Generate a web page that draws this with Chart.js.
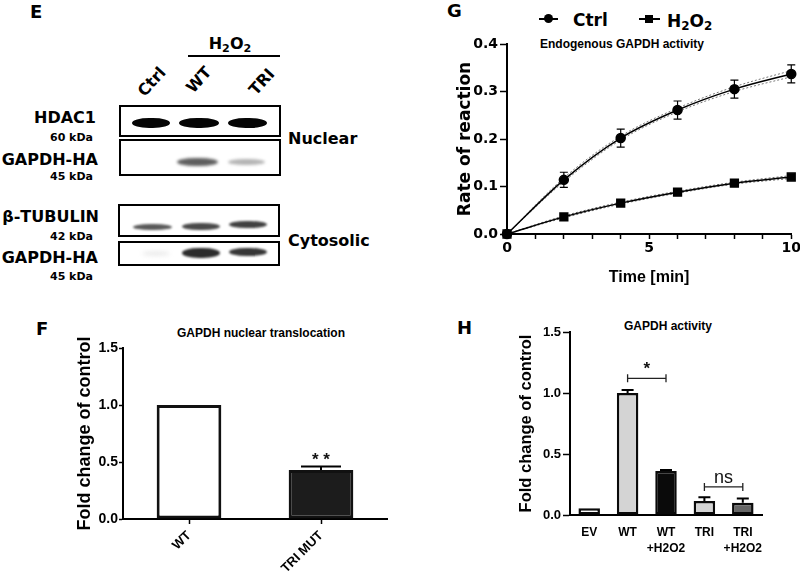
<!DOCTYPE html>
<html>
<head>
<meta charset="utf-8">
<title>GAPDH nuclear translocation and activity</title>
<script src="https://cdn.jsdelivr.net/npm/chart.js@4.4.1/dist/chart.umd.min.js"></script>
<style>
  html, body { margin: 0; padding: 0; background: #fff; }
  body { position: relative; width: 800px; height: 587px; overflow: hidden; color: #000; }
  canvas { position: absolute; }
  .t { position: absolute; line-height: 1; white-space: nowrap; transform: translateY(-50%); }
  .dv { font-family: "DejaVu Sans", sans-serif; font-weight: bold; }
  .lb { font-family: "Liberation Sans", Arial, sans-serif; font-weight: bold; }
  .box { position: absolute; border: 2px solid #000; box-sizing: border-box; background: #fff; }
  .band { position: absolute; border-radius: 45% / 50%; }
  .mk { position: absolute; background: #000; }
  sub { font-size: 0.7em; vertical-align: -0.28em; line-height: 0; }
</style>
</head>
<body>

<!-- panel letters -->
<div class="t dv" style="left:30px;top:12px;font-size:18px">E</div>
<div class="t dv" style="left:36px;top:329px;font-size:18px">F</div>
<div class="t dv" style="left:447px;top:11px;font-size:18px">G</div>
<div class="t dv" style="left:457px;top:328px;font-size:18px">H</div>

<!-- panel E: western blot -->
<div class="t dv" style="left:230px;top:44px;font-size:16px;transform:translate(-50%,-50%)">H<sub>2</sub>O<sub>2</sub></div>
<div class="mk" style="left:188px;top:55px;width:92px;height:2px"></div>
<div class="t dv" style="left:152px;top:82px;font-size:16px;transform:translate(-50%,-50%) rotate(-48deg)">Ctrl</div>
<div class="t dv" style="left:199px;top:80px;font-size:16px;transform:translate(-50%,-50%) rotate(-48deg)">WT</div>
<div class="t dv" style="left:262px;top:82px;font-size:16px;transform:translate(-50%,-50%) rotate(-48deg)">TRI</div>

<div class="t dv" style="right:704px;top:118px;font-size:16px">HDAC1</div>
<div class="t dv" style="right:707px;top:137px;font-size:11px">60 kDa</div>
<div class="t dv" style="right:702px;top:160px;font-size:16px">GAPDH-HA</div>
<div class="t dv" style="right:707px;top:176px;font-size:11px">45 kDa</div>
<div class="t dv" style="right:701px;top:217px;font-size:16px">&beta;-TUBULIN</div>
<div class="t dv" style="right:707px;top:236px;font-size:11px">42 kDa</div>
<div class="t dv" style="right:702px;top:258px;font-size:16px">GAPDH-HA</div>
<div class="t dv" style="right:707px;top:276px;font-size:11px">45 kDa</div>
<div class="t dv" style="left:288px;top:139px;font-size:16px">Nuclear</div>
<div class="t dv" style="left:288px;top:241px;font-size:16px">Cytosolic</div>

<div class="box" style="left:119px;top:105px;width:162px;height:32px"></div>
<div class="box" style="left:119px;top:139px;width:162px;height:37px"></div>
<div class="box" style="left:118px;top:204px;width:162px;height:33px"></div>
<div class="box" style="left:118px;top:241px;width:162px;height:25px"></div>

<!-- HDAC1 -->
<div class="band" style="left:132px;top:118px;width:38px;height:10px;background:#050505;filter:blur(0.6px)"></div>
<div class="band" style="left:179px;top:118px;width:40px;height:10px;background:#050505;filter:blur(0.6px)"></div>
<div class="band" style="left:228px;top:118px;width:39px;height:10px;background:#050505;filter:blur(0.6px)"></div>
<!-- GAPDH-HA nuclear -->
<div class="band" style="left:177px;top:158px;width:41px;height:8px;background:#5e5e5e;filter:blur(1.5px)"></div>
<div class="band" style="left:228px;top:159px;width:37px;height:6px;background:#b4b4b4;filter:blur(1.5px)"></div>
<!-- beta-tubulin -->
<div class="band" style="left:133px;top:224px;width:39px;height:6px;background:#595959;filter:blur(0.8px)"></div>
<div class="band" style="left:182px;top:223px;width:38px;height:7px;background:#4a4a4a;filter:blur(0.8px)"></div>
<div class="band" style="left:229px;top:221px;width:38px;height:7px;background:#404040;filter:blur(0.8px)"></div>
<!-- GAPDH-HA cytosolic -->
<div class="band" style="left:142px;top:251px;width:28px;height:5px;background:#ececec;filter:blur(2px)"></div>
<div class="band" style="left:182px;top:248px;width:38px;height:10px;background:#2c2c2c;filter:blur(1px)"></div>
<div class="band" style="left:229px;top:248px;width:38px;height:8px;background:#363636;filter:blur(1px)"></div>

<!-- panel G legend and title -->
<div class="mk" style="left:539px;top:18px;width:19px;height:2px"></div>
<div class="mk" style="left:544px;top:14px;width:9px;height:9px;border-radius:50%"></div>
<div class="t dv" style="left:573px;top:20px;font-size:17px">Ctrl</div>
<div class="mk" style="left:639px;top:18px;width:21px;height:2px"></div>
<div class="mk" style="left:645px;top:15px;width:8px;height:8px"></div>
<div class="t dv" style="left:667px;top:21px;font-size:17px">H<sub>2</sub>O<sub>2</sub></div>
<div class="t lb" style="left:622px;top:44px;font-size:12px;transform:translate(-50%,-50%)">Endogenous GAPDH activity</div>

<!-- panel F / H titles -->
<div class="t lb" style="left:261px;top:333px;font-size:12px;transform:translate(-50%,-50%)">GAPDH nuclear translocation</div>
<div class="t lb" style="left:668px;top:326px;font-size:12px;transform:translate(-50%,-50%)">GAPDH activity</div>

<canvas id="chartG" width="380" height="300" style="left:422px;top:0px"></canvas>
<canvas id="chartF" width="400" height="287" style="left:0px;top:300px"></canvas>
<canvas id="chartH" width="400" height="287" style="left:400px;top:300px"></canvas>

<script>
// ---- G: endogenous GAPDH activity over time ----
const timeMin = [0, 2, 4, 6, 8, 10];
const ctrlRate = [0, 0.114, 0.202, 0.261, 0.305, 0.337];
const ctrlSem = [0, 0.016, 0.019, 0.019, 0.019, 0.019];
const ctrlFitUpper = [0, 0.118, 0.206, 0.265, 0.310, 0.344];
const ctrlFitLower = [0, 0.110, 0.198, 0.257, 0.300, 0.331];
const h2o2Rate = [0, 0.036, 0.065, 0.088, 0.107, 0.120];
const h2o2FitUpper = [0, 0.038, 0.067, 0.090, 0.109, 0.123];
const h2o2FitLower = [0, 0.034, 0.063, 0.086, 0.105, 0.117];
const timeTicks = [0, 1, 2, 3, 4, 5, 6, 7, 8, 9, 10];
const timeTickLabels = ["0", "", "", "", "", "5", "", "", "", "", "10"];
const rateTicks = [0, 0.1, 0.2, 0.3, 0.4];

// ---- F: GAPDH nuclear translocation ----
const translocGroups = ["WT", "TRI MUT"];
const translocFold = [1.0, 0.43];
const translocSem = [0, 0.03];
const translocStars = ["", "* *"];

// ---- H: GAPDH activity ----
const activityGroups = ["EV", "WT", ["WT", "+H2O2"], "TRI", ["TRI", "+H2O2"]];
const activityFold = [0.055, 1.0, 0.36, 0.115, 0.10];
const activitySem = [0, 0.025, 0.008, 0.03, 0.035];
const activityBrackets = [
  { from: 1, to: 2, y: 1.12, text: "*" },
  { from: 3, to: 4, y: 0.23, text: "ns" }
];
const foldTicks = [0, 0.5, 1.0, 1.5];

const INK = "#000";
Chart.defaults.color = INK;
Chart.defaults.animation = false;

const pts = (xs, ys) => xs.map((x, i) => ({ x: x, y: ys[i] }));

// error bars drawn from dataset.errors through the y scale
const errorBars = {
  id: "errorBars",
  afterDatasetsDraw(chart, args, opts) {
    const ctx = chart.ctx;
    chart.data.datasets.forEach((ds, i) => {
      if (!ds.errors) return;
      const meta = chart.getDatasetMeta(i);
      const yScale = chart.scales[meta.yAxisID];
      ctx.save();
      ctx.strokeStyle = "#000";
      ctx.lineWidth = opts.width;
      meta.data.forEach((el, j) => {
        const err = ds.errors[j];
        if (!err) return;
        const raw = ds.data[j];
        const v = typeof raw === "object" ? raw.y : raw;
        const top = yScale.getPixelForValue(v + err);
        const bottom = opts.upOnly ? el.y : yScale.getPixelForValue(v - err);
        const x = el.x;
        ctx.beginPath();
        ctx.moveTo(x, bottom);
        ctx.lineTo(x, top);
        ctx.moveTo(x - opts.cap, top);
        ctx.lineTo(x + opts.cap, top);
        if (!opts.upOnly) {
          ctx.moveTo(x - opts.cap, bottom);
          ctx.lineTo(x + opts.cap, bottom);
        }
        ctx.stroke();
      });
      ctx.restore();
    });
  }
};

// significance brackets / stars
const brackets = {
  id: "brackets",
  afterDatasetsDraw(chart, args, opts) {
    const items = opts.items || [];
    const ctx = chart.ctx;
    const xs = chart.scales.x, ys = chart.scales.y;
    ctx.save();
    items.forEach(it => {
      const x1 = xs.getPixelForValue(it.from);
      const x2 = xs.getPixelForValue(it.to);
      const py = ys.getPixelForValue(it.y);
      if (it.from !== it.to) {
        ctx.strokeStyle = "#222";
        ctx.lineWidth = 1.3;
        ctx.beginPath();
        ctx.moveTo(x1, py); ctx.lineTo(x2, py);
        ctx.moveTo(x1, py - 4); ctx.lineTo(x1, py + 4);
        ctx.moveTo(x2, py - 4); ctx.lineTo(x2, py + 4);
        ctx.stroke();
      }
      ctx.fillStyle = "#111";
      ctx.textAlign = "center";
      ctx.textBaseline = "alphabetic";
      ctx.font = it.text.indexOf("*") >= 0 ? "bold 17px 'Liberation Sans'" : "18px 'Liberation Sans'";
      ctx.fillText(it.text, (x1 + x2) / 2, py - (it.from !== it.to ? 4 : 2));
    });
    ctx.restore();
  }
};

// ---------- G ----------
new Chart(document.getElementById("chartG"), {
  type: "line",
  data: {
    datasets: [
      { label: "Ctrl", data: pts(timeMin, ctrlRate), errors: ctrlSem, borderColor: "#000", borderWidth: 1.5,
        pointStyle: "circle", pointRadius: 4.5, pointBackgroundColor: "#000", pointBorderColor: "#000",
        cubicInterpolationMode: "monotone", clip: false },
      { label: "H2O2", data: pts(timeMin, h2o2Rate), borderColor: "#000", borderWidth: 1.5,
        pointStyle: "rect", pointRadius: 5.5, pointBackgroundColor: "#000", pointBorderColor: "#000",
        cubicInterpolationMode: "monotone", clip: false },
      { label: "Ctrl 95% band", data: pts(timeMin, ctrlFitUpper), borderColor: "#777", borderWidth: 1,
        borderDash: [2, 2], pointRadius: 0, cubicInterpolationMode: "monotone" },
      { label: "Ctrl 95% band", data: pts(timeMin, ctrlFitLower), borderColor: "#777", borderWidth: 1,
        borderDash: [2, 2], pointRadius: 0, cubicInterpolationMode: "monotone" },
      { label: "H2O2 95% band", data: pts(timeMin, h2o2FitUpper), borderColor: "#666", borderWidth: 1,
        borderDash: [2, 2], pointRadius: 0, cubicInterpolationMode: "monotone" },
      { label: "H2O2 95% band", data: pts(timeMin, h2o2FitLower), borderColor: "#666", borderWidth: 1,
        borderDash: [2, 2], pointRadius: 0, cubicInterpolationMode: "monotone" }
    ]
  },
  options: {
    responsive: false,
    layout: { padding: { left: 33, right: 10, top: 44, bottom: 13 } },
    plugins: {
      legend: { display: false },
      tooltip: { enabled: false },
      errorBars: { width: 1.2, cap: 4, upOnly: false }
    },
    scales: {
      x: {
        type: "linear", min: 0, max: 10,
        afterBuildTicks: s => { s.ticks = timeTicks.map(v => ({ value: v })); },
        afterFit: s => { s.height = 53; },
        ticks: { autoSkip: false, maxRotation: 0, padding: 1,
          callback: (v, i) => timeTickLabels[i],
          font: { family: "DejaVu Sans", weight: "bold", size: 14 } },
        grid: { drawOnChartArea: false, tickLength: 5, tickWidth: 1.5, color: INK },
        border: { color: INK, width: 2 },
        title: { display: true, text: "Time [min]", padding: 0,
          font: { family: "Liberation Sans", weight: "bold", size: 16 } }
      },
      y: {
        min: 0, max: 0.4,
        afterBuildTicks: s => { s.ticks = rateTicks.map(v => ({ value: v })); },
        afterFit: s => { s.width = 52; },
        ticks: { padding: 2, callback: v => v.toFixed(1),
          font: { family: "DejaVu Sans", weight: "bold", size: 14 } },
        grid: { drawOnChartArea: false, tickLength: 7, tickWidth: 1.5, color: INK },
        border: { color: INK, width: 2 },
        title: { display: true, text: "Rate of reaction", padding: 0,
          font: { family: "DejaVu Sans", weight: "bold", size: 17 } }
      }
    }
  },
  plugins: [errorBars]
});

// ---------- F ----------
new Chart(document.getElementById("chartF"), {
  type: "bar",
  data: {
    labels: translocGroups,
    datasets: [{
      data: translocFold, errors: translocSem,
      backgroundColor: ["#ffffff", "#1c1c1c"], borderColor: "#111", borderWidth: 3,
      borderSkipped: false, barPercentage: 0.49, categoryPercentage: 1
    }]
  },
  options: {
    responsive: false,
    layout: { padding: { left: 74, right: 13, top: 48, bottom: 0 } },
    plugins: {
      legend: { display: false },
      tooltip: { enabled: false },
      errorBars: { width: 2, cap: 20, upOnly: true },
      brackets: { items: translocStars.map((s, i) => ({ from: i, to: i, y: translocFold[i] + translocSem[i], text: s })).filter(d => d.text) }
    },
    scales: {
      x: {
        afterFit: s => { s.height = 68; },
        ticks: { autoSkip: false, minRotation: 45, maxRotation: 45, padding: 4,
          font: { family: "Liberation Sans", weight: "bold", size: 13 } },
        grid: { offset: false, drawOnChartArea: false, tickLength: 5, tickWidth: 1.5, color: INK },
        border: { color: INK, width: 2 }
      },
      y: {
        min: 0, max: 1.5,
        afterBuildTicks: s => { s.ticks = foldTicks.map(v => ({ value: v })); },
        afterFit: s => { s.width = 49; },
        ticks: { padding: 1, callback: v => v.toFixed(1),
          font: { family: "Liberation Sans", weight: "bold", size: 14 } },
        grid: { drawOnChartArea: false, tickLength: 4, tickWidth: 1.5, color: INK },
        border: { color: INK, width: 2 },
        title: { display: true, text: "Fold change of control", padding: 0,
          font: { family: "Liberation Sans", weight: "bold", size: 18 } }
      }
    }
  },
  plugins: [errorBars, brackets]
});

// ---------- H ----------
new Chart(document.getElementById("chartH"), {
  type: "bar",
  data: {
    labels: activityGroups,
    datasets: [{
      data: activityFold, errors: activitySem,
      backgroundColor: ["#ffffff", "#d4d4d4", "#0a0a0a", "#d4d4d4", "#666666"], borderColor: "#0a0a0a",
      borderWidth: 2.5, borderSkipped: false, barPercentage: 0.56, categoryPercentage: 1
    }]
  },
  options: {
    responsive: false,
    layout: { padding: { left: 117, right: 38, top: 32, bottom: 0 } },
    plugins: {
      legend: { display: false },
      tooltip: { enabled: false },
      errorBars: { width: 2, cap: 6, upOnly: true },
      brackets: { items: activityBrackets }
    },
    scales: {
      x: {
        afterFit: s => { s.height = 72; },
        ticks: { autoSkip: false, maxRotation: 0, padding: 2,
          font: { family: "Liberation Sans", weight: "bold", size: 12, lineHeight: 1.33 } },
        grid: { display: false },
        border: { color: INK, width: 2 }
      },
      y: {
        min: 0, max: 1.5,
        afterBuildTicks: s => { s.ticks = foldTicks.map(v => ({ value: v })); },
        afterFit: s => { s.width = 53; },
        ticks: { padding: 2, callback: v => v.toFixed(1),
          font: { family: "Liberation Sans", weight: "bold", size: 13 } },
        grid: { drawOnChartArea: false, tickLength: 7, tickWidth: 1.5, color: INK },
        border: { color: INK, width: 2 },
        title: { display: true, text: "Fold change of control", padding: 0,
          font: { family: "Liberation Sans", weight: "bold", size: 16.5 } }
      }
    }
  },
  plugins: [errorBars, brackets]
});
</script>
</body>
</html>
